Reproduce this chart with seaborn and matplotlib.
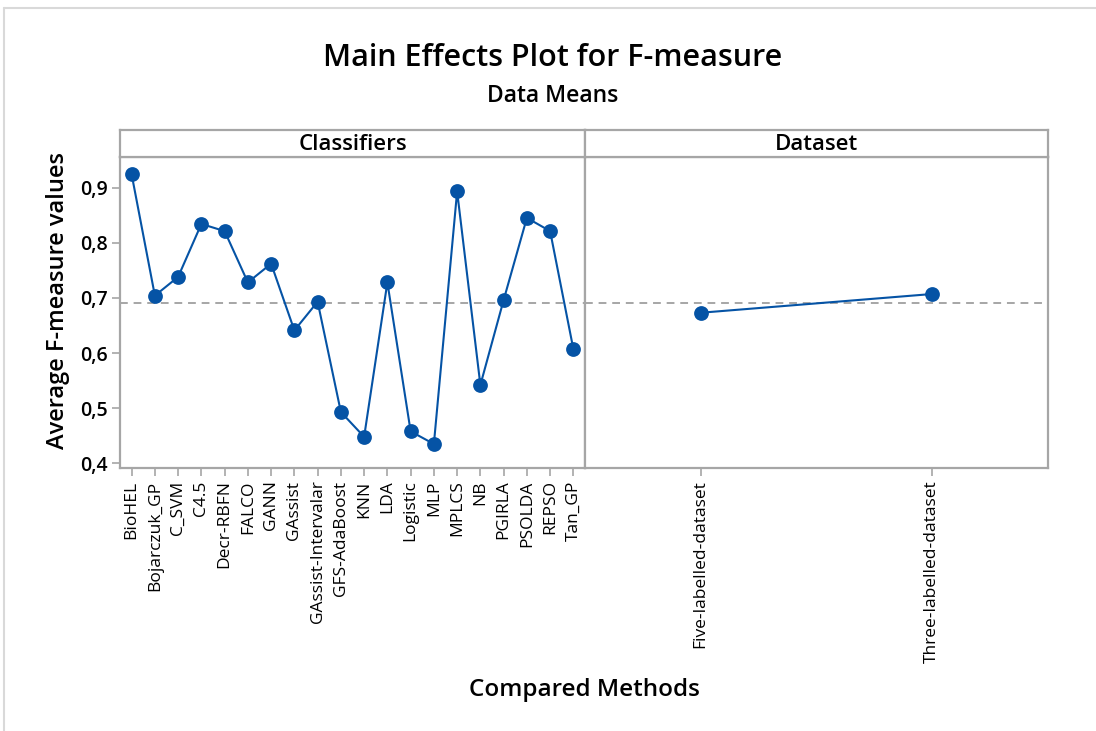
import matplotlib
matplotlib.use("Agg")
import matplotlib.pyplot as plt
import seaborn as sns
import pandas as pd
from matplotlib.lines import Line2D

classifiers = ["BioHEL", "Bojarczuk_GP", "C_SVM", "C4.5", "Decr-RBFN", "FALCO", "GANN",
               "GAssist", "GAssist-Intervalar", "GFS-AdaBoost", "KNN", "LDA", "Logistic",
               "MLP", "MPLCS", "NB", "PGIRLA", "PSOLDA", "REPSO", "Tan_GP"]
classifier_means = [0.924, 0.704, 0.738, 0.834, 0.821, 0.728, 0.762, 0.641, 0.693, 0.493,
                    0.448, 0.728, 0.458, 0.435, 0.893, 0.542, 0.696, 0.845, 0.821, 0.607]
datasets = ["Five-labelled-dataset", "Three-labelled-dataset"]
dataset_means = [0.673, 0.707]
grand_mean = 0.690
yticks = [0.4, 0.5, 0.6, 0.7, 0.8, 0.9]
ytick_labels = ["0,4", "0,5", "0,6", "0,7", "0,8", "0,9"]

sns.set_theme(style="white")
plt.rcParams['font.family'] = ['Open Sans', 'DejaVu Sans']
plt.rcParams['text.color'] = 'black'
plt.rcParams['xtick.labelcolor'] = 'black'
plt.rcParams['ytick.labelcolor'] = 'black'

BLUE = "#0553a5"
GRAY = "#a6a6a6"

fig = plt.figure(figsize=(10.96, 7.31), dpi=100)
W, H = 1096, 731
def fx(px): return px / W
def fy(py): return 1 - py / H

ax_bottom, ax_top = 468, 157
head_top = 130
x0, xm, x1 = 120, 585, 1048

ax1 = fig.add_axes([fx(x0), fy(ax_bottom), fx(xm - x0), fy(ax_top) - fy(ax_bottom)])
ax2 = fig.add_axes([fx(xm), fy(ax_bottom), fx(x1 - xm), fy(ax_top) - fy(ax_bottom)], sharey=ax1)

df1 = pd.DataFrame({"method": classifiers, "value": classifier_means})
df2 = pd.DataFrame({"method": datasets, "value": dataset_means})

for ax, df, n in [(ax1, df1, len(classifiers)), (ax2, df2, len(datasets))]:
    ax.axhline(grand_mean, color=GRAY, lw=1.4, ls=(0, (4, 3)), zorder=1)
    sns.pointplot(data=df, x="method", y="value", ax=ax, color=BLUE,
                  markers="o", markersize=9.5, linewidth=1.5, errorbar=None)
    ax.set_xlim(-0.5, n - 0.5)
    ax.set_xlabel("")
    ax.set_ylabel("")
    for s in ax.spines.values():
        s.set_color(GRAY)
        s.set_linewidth(1.6)
    ax.tick_params(axis="x", which="both", bottom=True, length=6, width=1.2, color=GRAY,
                   labelsize=12.5, pad=3, labelcolor="black")
    plt.setp(ax.get_xticklabels(), rotation=90)

ax1.set_ylim(0.3915, 0.9554)
ax1.set_yticks(yticks)
ax1.set_yticklabels(ytick_labels, fontsize=14, fontweight="semibold", color="black")
ax1.tick_params(axis="y", left=True, length=6, width=1.2, color=GRAY, pad=3)
ax2.tick_params(axis="y", left=False, labelleft=False)

# strip headers
for (l, r, txt) in [(x0, xm, "Classifiers"), (xm, x1, "Dataset")]:
    hax = fig.add_axes([fx(l), fy(ax_top), fx(r - l), fy(head_top) - fy(ax_top)])
    hax.set_xticks([]); hax.set_yticks([])
    hax.set_facecolor("white")
    for s in hax.spines.values():
        s.set_color(GRAY); s.set_linewidth(1.6)
    hax.text(0.5, 0.45, txt, ha="center", va="center", fontsize=16, fontweight="semibold",
             color="black", transform=hax.transAxes)

fig.text(fx(553), fy(58), "Main Effects Plot for F-measure", ha="center", va="center",
         fontsize=22, fontweight="semibold", color="black")
fig.text(fx(553), fy(96), "Data Means", ha="center", va="center",
         fontsize=16.5, fontweight="semibold", color="black")
fig.text(fx(58), fy(300), "Average F-measure values", ha="center", va="center",
         rotation=90, fontsize=17, fontweight="semibold", color="black")
fig.text(fx(584), fy(690), "Compared Methods", ha="center", va="center",
         fontsize=17.5, fontweight="semibold", color="black")

# outer frame lines
fig.add_artist(Line2D([fx(4), fx(1096)], [fy(8), fy(8)], color="#d9d9d9", lw=1.5))
fig.add_artist(Line2D([fx(4), fx(4)], [fy(8), fy(731)], color="#d9d9d9", lw=1.5))

fig.savefig("out.png", dpi=100)
